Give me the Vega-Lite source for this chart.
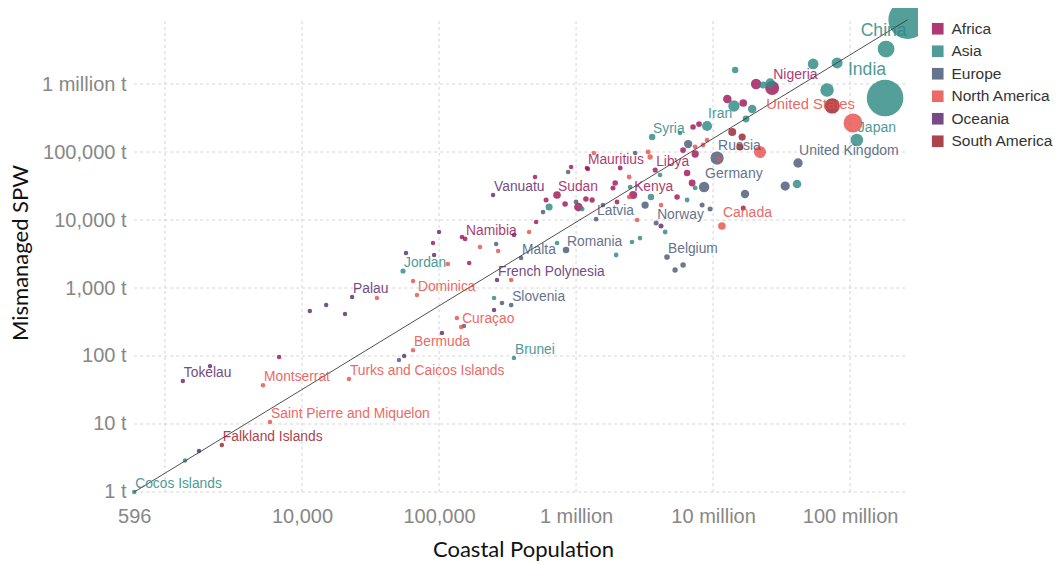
{
"$schema": "https://vega.github.io/schema/vega-lite/v6.json",
"width": 790,
"height": 489,
"autosize": {"type": "none"},
"padding": {"left": 128, "top": 8, "right": 138, "bottom": 67},
"background": "white",
"config": {"view": {"stroke": null}, "font": "Liberation Sans",
  "axis": {"grid": false, "ticks": false, "domain": false, "labelFont": "Liberation Sans", "labelFontSize": 20, "labelColor": "#878787", "titleFont": "Lato", "titleFontSize": 22, "titleFontWeight": "normal", "titleColor": "#111111", "labelOverlap": false, "labelFlush": false}},
"datasets": {
"countries": [
{"c":"Cocos Islands","k":"Asia","x":596,"y":1,"p":0.0006},
{"c":"","k":"Asia","x":1400,"y":2.9,"p":0.001},
{"c":"","k":"Oceania","x":1770,"y":4.0,"p":0.002},
{"c":"Falkland Islands","k":"South America","x":2600,"y":4.9,"p":0.003},
{"c":"Tokelau","k":"Oceania","x":1350,"y":43,"p":0.001},
{"c":"","k":"Oceania","x":2130,"y":71,"p":0.01},
{"c":"","k":"Africa","x":6800,"y":97,"p":0.01},
{"c":"Montserrat","k":"North America","x":5190,"y":37,"p":0.005},
{"c":"Saint Pierre and Miquelon","k":"North America","x":5840,"y":10.7,"p":0.006},
{"c":"","k":"Oceania","x":11400,"y":459,"p":0.01},
{"c":"","k":"Oceania","x":15000,"y":562,"p":0.02},
{"c":"","k":"Oceania","x":20600,"y":415,"p":0.02},
{"c":"Palau","k":"Oceania","x":23200,"y":738,"p":0.02},
{"c":"","k":"North America","x":35200,"y":713,"p":0.05},
{"c":"Turks and Caicos Islands","k":"North America","x":22000,"y":46,"p":0.03},
{"c":"Jordan","k":"Asia","x":54600,"y":1780,"p":6.2},
{"c":"","k":"Oceania","x":57400,"y":3270,"p":0.1},
{"c":"","k":"North America","x":64600,"y":1270,"p":0.07},
{"c":"Dominica","k":"North America","x":69000,"y":789,"p":0.07},
{"c":"","k":"Africa","x":90300,"y":4590,"p":0.1},
{"c":"","k":"Oceania","x":92000,"y":3060,"p":0.1},
{"c":"","k":"Oceania","x":100000,"y":6660,"p":0.1},
{"c":"","k":"North America","x":116000,"y":2250,"p":0.1},
{"c":"","k":"Oceania","x":105000,"y":218,"p":0.1},
{"c":"Bermuda","k":"North America","x":64600,"y":122,"p":0.06},
{"c":"","k":"Europe","x":51000,"y":87,"p":0.05},
{"c":"","k":"Oceania","x":55600,"y":100,"p":0.05},
{"c":"Vanuatu","k":"Oceania","x":248000,"y":23300,"p":0.25},
{"c":"","k":"Africa","x":502000,"y":42900,"p":1},
{"c":"","k":"Europe","x":875000,"y":50800,"p":1},
{"c":"","k":"Africa","x":920000,"y":60100,"p":1},
{"c":"","k":"Africa","x":1220000,"y":56200,"p":1.5},
{"c":"","k":"North America","x":1350000,"y":96700,"p":0.5},
{"c":"Sudan","k":"Africa","x":726000,"y":23300,"p":35},
{"c":"","k":"Africa","x":604000,"y":19700,"p":5},
{"c":"","k":"Asia","x":636000,"y":15500,"p":28},
{"c":"","k":"Europe","x":574000,"y":13100,"p":2},
{"c":"","k":"Africa","x":832000,"y":17200,"p":10},
{"c":"","k":"Europe","x":1000000,"y":18400,"p":3},
{"c":"","k":"Africa","x":1040000,"y":15500,"p":50},
{"c":"","k":"Africa","x":1180000,"y":20400,"p":10},
{"c":"","k":"Africa","x":1310000,"y":19700,"p":8},
{"c":"","k":"Asia","x":1110000,"y":14500,"p":2},
{"c":"Latvia","k":"Europe","x":1400000,"y":10300,"p":2.2},
{"c":"","k":"Africa","x":511000,"y":9350,"p":1.5},
{"c":"","k":"North America","x":454000,"y":6660,"p":0.5},
{"c":"Namibia","k":"Africa","x":155000,"y":5260,"p":2.2},
{"c":"","k":"Africa","x":147000,"y":5620,"p":1.5},
{"c":"","k":"Oceania","x":352000,"y":6010,"p":0.5},
{"c":"","k":"Europe","x":261000,"y":4440,"p":0.5},
{"c":"","k":"North America","x":199000,"y":4010,"p":0.3},
{"c":"","k":"North America","x":270000,"y":3500,"p":0.3},
{"c":"","k":"Africa","x":166000,"y":2330,"p":0.8},
{"c":"Malta","k":"Europe","x":397000,"y":2760,"p":0.4},
{"c":"","k":"Asia","x":726000,"y":4590,"p":2},
{"c":"Romania","k":"Europe","x":845000,"y":3620,"p":21},
{"c":"French Polynesia","k":"Oceania","x":265000,"y":1310,"p":0.27},
{"c":"","k":"North America","x":336000,"y":1310,"p":0.3},
{"c":"","k":"Asia","x":252000,"y":713,"p":0.5},
{"c":"","k":"Europe","x":288000,"y":601,"p":1.5},
{"c":"Slovenia","k":"Europe","x":336000,"y":562,"p":2},
{"c":"","k":"Oceania","x":252000,"y":475,"p":0.3},
{"c":"","k":"North America","x":135000,"y":362,"p":0.1},
{"c":"Curaçao","k":"North America","x":145000,"y":267,"p":0.15},
{"c":"","k":"Europe","x":152000,"y":276,"p":0.3},
{"c":"Brunei","k":"Asia","x":352000,"y":93.5,"p":0.4},
{"c":"Syria","k":"Asia","x":3590000,"y":166000,"p":21},
{"c":"","k":"Asia","x":5740000,"y":190000,"p":0.5},
{"c":"","k":"Africa","x":7140000,"y":233000,"p":10},
{"c":"","k":"Africa","x":7900000,"y":258000,"p":12},
{"c":"Iran","k":"Asia","x":9040000,"y":241000,"p":75},
{"c":"","k":"Europe","x":6580000,"y":131000,"p":45},
{"c":"","k":"North America","x":7400000,"y":119000,"p":4},
{"c":"","k":"North America","x":8450000,"y":127000,"p":4},
{"c":"","k":"Africa","x":7400000,"y":93500,"p":30},
{"c":"","k":"Africa","x":6040000,"y":107000,"p":12},
{"c":"Russia","k":"Europe","x":10700000,"y":81600,"p":143},
{"c":"","k":"North America","x":11100000,"y":78900,"p":2},
{"c":"Mauritius","k":"Africa","x":1200000,"y":58200,"p":1.3},
{"c":"","k":"North America","x":3360000,"y":100000,"p":4},
{"c":"","k":"North America","x":3470000,"y":84400,"p":8},
{"c":"","k":"Europe","x":2700000,"y":96700,"p":2},
{"c":"Libya","k":"Africa","x":3780000,"y":54300,"p":6},
{"c":"","k":"Asia","x":4100000,"y":45900,"p":2},
{"c":"","k":"North America","x":2440000,"y":42900,"p":3},
{"c":"","k":"Africa","x":2100000,"y":58200,"p":4},
{"c":"","k":"Africa","x":6460000,"y":49100,"p":20},
{"c":"","k":"Africa","x":7030000,"y":35000,"p":25},
{"c":"","k":"Africa","x":1930000,"y":35000,"p":10},
{"c":"","k":"Africa","x":1860000,"y":29600,"p":5},
{"c":"","k":"Africa","x":1990000,"y":18400,"p":4},
{"c":"","k":"Europe","x":1570000,"y":16600,"p":2},
{"c":"","k":"North America","x":2440000,"y":21800,"p":1},
{"c":"Kenya","k":"Africa","x":2610000,"y":23300,"p":41},
{"c":"","k":"Asia","x":2480000,"y":30600,"p":2},
{"c":"","k":"North America","x":2790000,"y":10000,"p":2},
{"c":"","k":"Europe","x":3190000,"y":16600,"p":30},
{"c":"","k":"Asia","x":3520000,"y":21800,"p":20},
{"c":"Norway","k":"Europe","x":3840000,"y":9040,"p":5},
{"c":"","k":"Oceania","x":4170000,"y":8170,"p":5},
{"c":"","k":"North America","x":4170000,"y":16600,"p":2},
{"c":"","k":"Asia","x":4470000,"y":6660,"p":3},
{"c":"","k":"Asia","x":2560000,"y":4750,"p":2},
{"c":"","k":"Asia","x":2930000,"y":5430,"p":2},
{"c":"","k":"Asia","x":1960000,"y":3060,"p":3},
{"c":"Belgium","k":"Europe","x":4610000,"y":2860,"p":11},
{"c":"","k":"Europe","x":5280000,"y":1840,"p":8},
{"c":"","k":"Europe","x":6040000,"y":2180,"p":10},
{"c":"","k":"Africa","x":5460000,"y":21800,"p":10},
{"c":"","k":"Asia","x":6460000,"y":19700,"p":3},
{"c":"","k":"Europe","x":8320000,"y":16600,"p":5},
{"c":"","k":"Europe","x":9510000,"y":14500,"p":5},
{"c":"Germany","k":"Europe","x":8600000,"y":30600,"p":82},
{"c":"","k":"Asia","x":7400000,"y":29600,"p":3},
{"c":"","k":"Asia","x":14500000,"y":1610000,"p":20},
{"c":"","k":"Africa","x":20600000,"y":1000000,"p":82},
{"c":"","k":"Asia","x":23200000,"y":967000,"p":28},
{"c":"","k":"Asia","x":26100000,"y":1030000,"p":66},
{"c":"Nigeria","k":"Africa","x":27000000,"y":874000,"p":160},
{"c":"","k":"Asia","x":53700000,"y":1970000,"p":88},
{"c":"","k":"Asia","x":80400000,"y":2040000,"p":94},
{"c":"","k":"Asia","x":67900000,"y":816000,"p":150},
{"c":"","k":"South America","x":74000000,"y":475000,"p":195},
{"c":"India","k":"Asia","x":180000000,"y":622000,"p":1210},
{"c":"","k":"Asia","x":183000000,"y":3270000,"p":240},
{"c":"China","k":"Asia","x":262900000,"y":8820000,"p":1340},
{"c":"United States","k":"North America","x":105000000,"y":267000,"p":310},
{"c":"Japan","k":"Asia","x":112000000,"y":150000,"p":127},
{"c":"United Kingdom","k":"Europe","x":41700000,"y":68900,"p":62},
{"c":"","k":"Europe","x":33600000,"y":31600,"p":60},
{"c":"","k":"Asia","x":41000000,"y":33800,"p":50},
{"c":"","k":"North America","x":22000000,"y":100000,"p":113},
{"c":"","k":"South America","x":15700000,"y":119000,"p":30},
{"c":"","k":"South America","x":13800000,"y":197000,"p":40},
{"c":"","k":"South America","x":16300000,"y":166000,"p":29},
{"c":"","k":"Europe","x":17100000,"y":24100,"p":46},
{"c":"","k":"South America","x":16600000,"y":15000,"p":5},
{"c":"Canada","k":"North America","x":11600000,"y":8170,"p":34},
{"c":"","k":"Africa","x":12700000,"y":601000,"p":50},
{"c":"","k":"Asia","x":14200000,"y":475000,"p":100},
{"c":"","k":"Africa","x":16600000,"y":526000,"p":36},
{"c":"","k":"Asia","x":19300000,"y":429000,"p":48},
{"c":"","k":"Asia","x":17400000,"y":306000,"p":24},
{"c":"","k":"North America","x":9040000,"y":150000,"p":3}
],
"hgrid": [
{"x":596,"x2":262900000,"y":1},{"x":596,"x2":262900000,"y":10},{"x":596,"x2":262900000,"y":100},{"x":596,"x2":262900000,"y":1000},{"x":596,"x2":262900000,"y":10000},{"x":596,"x2":262900000,"y":100000},{"x":596,"x2":262900000,"y":1000000}
],
"vgrid": [
{"x":1000,"y":1,"y2":8820000},{"x":10000,"y":1,"y2":8820000},{"x":100000,"y":1,"y2":8820000},{"x":1000000,"y":1,"y2":8820000},{"x":10000000,"y":1,"y2":8820000},{"x":100000000,"y":1,"y2":8820000}
],
"trend": [{"x":596,"y":1},{"x":262900000,"y":8820000}]
},
"layer": [
{"data": {"name": "hgrid"},
 "mark": {"type": "rule", "color": "#d4d4d4", "strokeDash": [3, 3], "strokeWidth": 1},
 "encoding": {
  "x": {"field": "x", "type": "quantitative", "title": "Coastal Population",
    "scale": {"type": "log", "domain": [537, 313000000], "nice": false},
    "axis": {"values": [596, 10000, 100000, 1000000, 10000000, 100000000], "labelExpr": "datum.value < 1000000 ? format(datum.value, ',') : format(datum.value / 1000000, 'd') + ' million'", "labelPadding": 9, "titlePadding": 13}},
  "x2": {"field": "x2"},
  "y": {"field": "y", "type": "quantitative", "title": "Mismanaged SPW",
    "scale": {"type": "log", "domain": [0.844, 13120000], "nice": false},
    "axis": {"values": [1, 10, 100, 1000, 10000, 100000, 1000000], "labelExpr": "datum.value >= 1000000 ? '1 million t' : format(datum.value, ',') + ' t'", "labelPadding": 2, "titlePadding": 9}}
 }},
{"data": {"name": "vgrid"},
 "mark": {"type": "rule", "color": "#d4d4d4", "strokeDash": [3, 3], "strokeWidth": 1},
 "encoding": {
  "x": {"field": "x", "type": "quantitative", "title": "Coastal Population"},
  "y": {"field": "y", "type": "quantitative", "title": "Mismanaged SPW"},
  "y2": {"field": "y2"}
 }},
{"data": {"name": "countries"},
 "mark": {"type": "circle", "opacity": 0.82, "clip": true},
 "encoding": {
  "x": {"field": "x", "type": "quantitative", "title": "Coastal Population"},
  "y": {"field": "y", "type": "quantitative", "title": "Mismanaged SPW"},
  "size": {"field": "p", "type": "quantitative", "scale": {"type": "linear", "domain": [0, 1340], "range": [20, 1480]}, "legend": null},
  "color": {"field": "k", "type": "nominal",
    "scale": {"domain": ["Africa", "Asia", "Europe", "North America", "Oceania", "South America"], "range": ["#a0165a", "#2f8a85", "#4c5a78", "#e8504a", "#5c2c6e", "#9c232c"]},
    "legend": {"title": null, "orient": "none", "legendX": 802, "legendY": 13, "symbolType": "square", "symbolSize": 135, "symbolOpacity": 1, "symbolStrokeWidth": 0, "labelFontSize": 15.5, "labelFont": "Liberation Sans", "labelColor": "#333333", "rowPadding": 5.5, "labelOffset": 6}},
  "order": {"field": "p", "type": "quantitative", "sort": "descending"}
 }},
{"data": {"name": "trend"},
 "mark": {"type": "line", "color": "#3c3c3c", "strokeWidth": 0.9, "clip": true},
 "encoding": {
  "x": {"field": "x", "type": "quantitative", "title": "Coastal Population"},
  "y": {"field": "y", "type": "quantitative", "title": "Mismanaged SPW"}
 }},
{"data": {"name": "countries"},
 "transform": [{"filter": {"field": "c", "oneOf": ["Cocos Islands", "Tokelau", "Montserrat", "Saint Pierre and Miquelon", "Falkland Islands", "Turks and Caicos Islands", "Palau", "Jordan", "Dominica", "Bermuda", "Curaçao", "Brunei", "Slovenia", "French Polynesia", "Malta", "Romania", "Namibia", "Vanuatu", "Sudan", "Latvia", "Mauritius", "Kenya", "Libya", "Syria", "Norway", "Belgium"]}}],
 "mark": {"type": "text", "align": "left", "baseline": "middle", "dx": 1, "dy": -8, "fontSize": 13.8, "opacity": 0.85},
 "encoding": {
  "x": {"field": "x", "type": "quantitative", "title": "Coastal Population"},
  "y": {"field": "y", "type": "quantitative", "title": "Mismanaged SPW"},
  "text": {"field": "c"},
  "color": {"field": "k", "type": "nominal"}
 }},
{"data": {"name": "countries"},
 "transform": [{"filter": {"field": "c", "oneOf": ["Iran", "Nigeria", "Russia", "Germany", "United Kingdom", "Canada", "Japan"]}}],
 "mark": {"type": "text", "align": "left", "baseline": "middle", "dx": 1, "dy": -12.5, "fontSize": 14, "opacity": 0.85},
 "encoding": {
  "x": {"field": "x", "type": "quantitative", "title": "Coastal Population"},
  "y": {"field": "y", "type": "quantitative", "title": "Mismanaged SPW"},
  "text": {"field": "c"},
  "color": {"field": "k", "type": "nominal"}
 }},
{"data": {"name": "countries"},
 "transform": [{"filter": {"field": "c", "equal": "United States"}}],
 "mark": {"type": "text", "align": "right", "baseline": "middle", "dx": 2, "dy": -18, "fontSize": 14.8, "opacity": 0.85},
 "encoding": {
  "x": {"field": "x", "type": "quantitative", "title": "Coastal Population"},
  "y": {"field": "y", "type": "quantitative", "title": "Mismanaged SPW"},
  "text": {"field": "c"},
  "color": {"field": "k", "type": "nominal"}
 }},
{"data": {"name": "countries"},
 "transform": [{"filter": {"field": "c", "equal": "India"}}],
 "mark": {"type": "text", "align": "right", "baseline": "middle", "dx": 1, "dy": -28.5, "fontSize": 17.6, "opacity": 0.85},
 "encoding": {
  "x": {"field": "x", "type": "quantitative", "title": "Coastal Population"},
  "y": {"field": "y", "type": "quantitative", "title": "Mismanaged SPW"},
  "text": {"field": "c"},
  "color": {"field": "k", "type": "nominal"}
 }},
{"data": {"name": "countries"},
 "transform": [{"filter": {"field": "c", "equal": "China"}}],
 "mark": {"type": "text", "align": "right", "baseline": "middle", "dx": -1, "dy": 11, "fontSize": 17.6, "opacity": 0.85},
 "encoding": {
  "x": {"field": "x", "type": "quantitative", "title": "Coastal Population"},
  "y": {"field": "y", "type": "quantitative", "title": "Mismanaged SPW"},
  "text": {"field": "c"},
  "color": {"field": "k", "type": "nominal"}
 }}
]
}
